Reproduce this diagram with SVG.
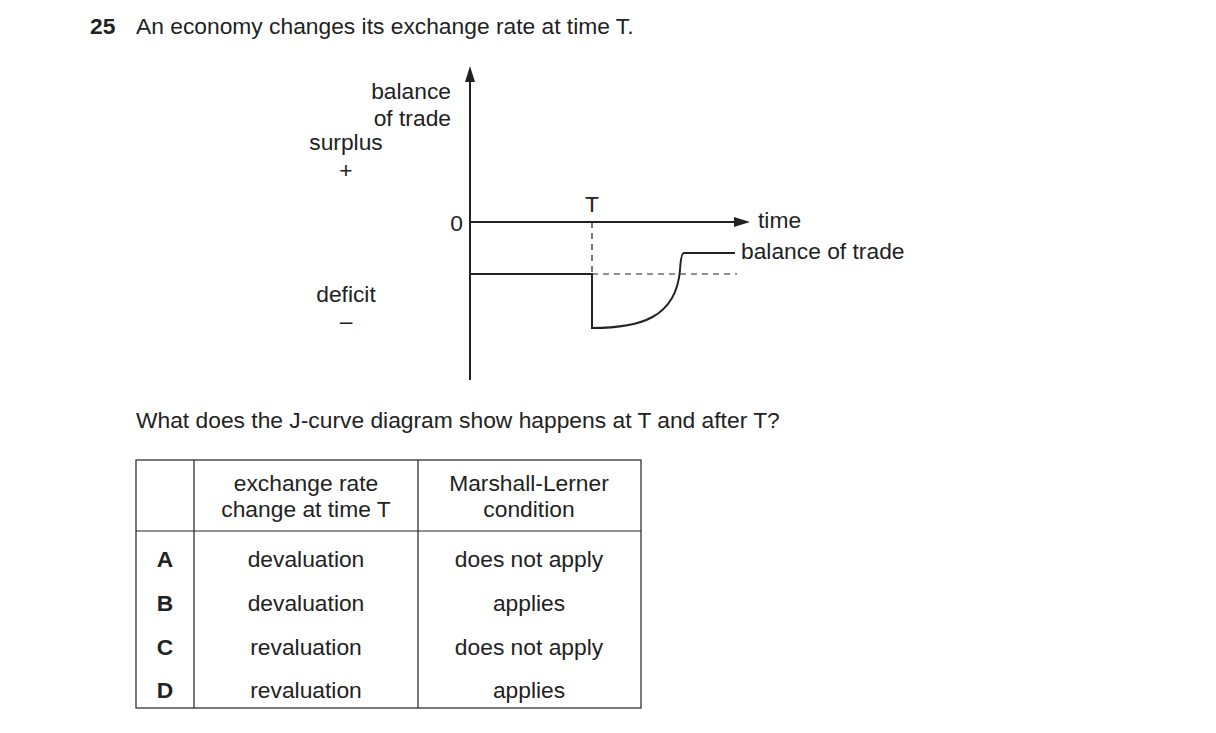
<svg xmlns="http://www.w3.org/2000/svg" width="1216" height="733" viewBox="0 0 1216 733">
<style>
text{font-family:"Liberation Sans",Arial,sans-serif;font-size:22.8px;fill:#222}
.c{text-anchor:middle}.r{text-anchor:end}
.ln{stroke:#222;stroke-width:2;fill:none}
.d{stroke:#222;stroke-width:1.2;fill:none;stroke-dasharray:6,5}
.tb{stroke:#222;stroke-width:1.2;fill:none}
</style>
<rect width="1216" height="733" fill="#fff"/>
<text x="90" y="34" style="font-weight:bold">25</text>
<text x="136" y="34">An economy changes its exchange rate at time T.</text>
<g id="labels">
<text x="451" y="99" class="r">balance</text>
<text x="451" y="126" class="r">of trade</text>
<text x="346" y="150" class="c">surplus</text>
<text x="346" y="178" class="c">+</text>
<text x="346" y="302" class="c">deficit</text>
<text x="346" y="329" class="c">–</text>
<text x="463" y="231" class="r">0</text>
<text x="592" y="212" class="c">T</text>
<text x="758" y="228">time</text>
<text x="741" y="259">balance of trade</text>
</g>
<g id="connectors">
<line class="ln" x1="470" y1="80" x2="470" y2="380"/>
<polygon points="470,66 465,82 475,82" fill="#222"/>
<line class="ln" x1="470" y1="222" x2="736" y2="222"/>
<polygon points="750,222 734,217 734,227" fill="#222"/>
<line class="d" x1="592" y1="222" x2="592" y2="274"/>
<line class="d" x1="592" y1="274" x2="737" y2="274"/>
<path class="ln" d="M470,274 H592 V328 C640,328 676,318 680,270 Q681,253 684,253 H735"/>
</g>
<text x="136" y="428">What does the J-curve diagram show happens at T and after T?</text>
<g id="table">
<rect class="tb" x="136" y="460" width="505" height="248"/>
<line class="tb" x1="194" y1="460" x2="194" y2="708"/>
<line class="tb" x1="418" y1="460" x2="418" y2="708"/>
<line class="tb" x1="136" y1="531" x2="641" y2="531"/>
<text x="306" y="491" class="c">exchange rate</text>
<text x="306" y="517" class="c">change at time T</text>
<text x="529" y="491" class="c">Marshall-Lerner</text>
<text x="529" y="517" class="c">condition</text>
<text x="165" y="567" class="c" style="font-weight:bold">A</text>
<text x="306" y="567" class="c">devaluation</text>
<text x="529" y="567" class="c">does not apply</text>
<text x="165" y="611" class="c" style="font-weight:bold">B</text>
<text x="306" y="611" class="c">devaluation</text>
<text x="529" y="611" class="c">applies</text>
<text x="165" y="655" class="c" style="font-weight:bold">C</text>
<text x="306" y="655" class="c">revaluation</text>
<text x="529" y="655" class="c">does not apply</text>
<text x="165" y="698" class="c" style="font-weight:bold">D</text>
<text x="306" y="698" class="c">revaluation</text>
<text x="529" y="698" class="c">applies</text>
</g>
</svg>
